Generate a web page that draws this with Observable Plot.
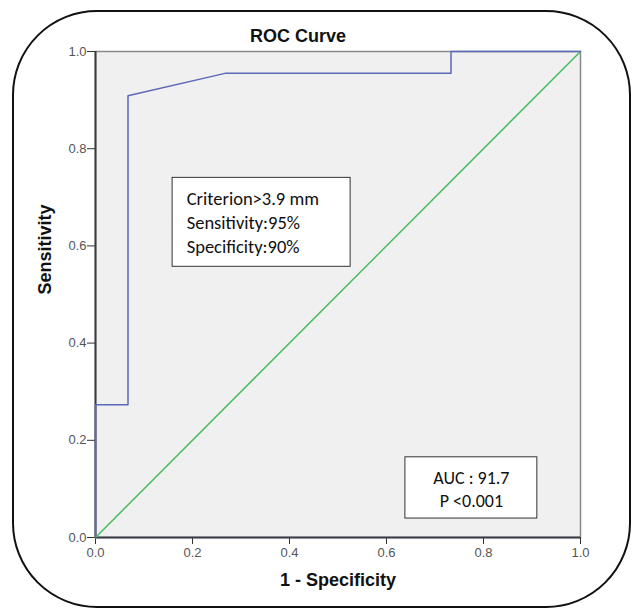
<!DOCTYPE html>
<html><head><meta charset="utf-8">
<script src="https://cdn.jsdelivr.net/npm/d3@7"></script>
<script src="https://cdn.jsdelivr.net/npm/@observablehq/plot@0.6"></script>
<style>
body{margin:0;background:#fff;}
#wrap{position:relative;width:633px;height:611px;}
#border{position:absolute;left:12px;top:10px;width:619px;height:598px;border:2px solid #111;border-radius:85px;box-sizing:border-box;pointer-events:none;}
</style>
</head><body>
<div id="wrap"><div id="chart"></div><div id="border"></div></div>
<script>
const rocFpr = [0, 0, 0.067, 0.067, 0.267, 0.733, 0.733, 1];
const rocTpr = [0, 0.273, 0.273, 0.909, 0.955, 0.955, 1, 1];
const refLine = [0, 1];
const ticks = [0, 0.2, 0.4, 0.6, 0.8, 1.0];
const title = "ROC Curve";
const xLabel = "1 - Specificity";
const yLabel = "Sensitivity";
const box1Text = "Criterion>3.9 mm\nSensitivity:95%\nSpecificity:90%";
const box1 = {x1: 0.159, x2: 0.526, y1: 0.557, y2: 0.740, tx: 0.188, ty: 0.651};
const box2Text = "AUC : 91.7\nP <0.001";
const box2 = {x1: 0.639, x2: 0.911, y1: 0.039, y2: 0.165, tx: 0.775, ty: 0.101};

const roc = rocFpr.map((x, i) => ({x, y: rocTpr[i]}));
const diag = refLine.map(v => ({x: v, y: v}));

const chart = Plot.plot({
  width: 633, height: 611,
  marginLeft: 95, marginRight: 53, marginTop: 51, marginBottom: 74,
  style: {fontFamily: "Liberation Sans, Arial, sans-serif", background: "transparent"},
  x: {domain: [0, 1]},
  y: {domain: [0, 1]},
  marks: [
    Plot.frame({fill: "#f0f0f0", stroke: "#8a8a8a", strokeWidth: 1.5}),
    Plot.axisX({ticks, tickFormat: d3.format(".1f"), tickSize: 7, fontSize: 13, color: "#555", stroke: "#333", label: null, tickPadding: 3}),
    Plot.axisY({ticks, tickFormat: d3.format(".1f"), tickSize: 8, fontSize: 13, color: "#555", stroke: "#333", label: null, tickPadding: 1}),
    Plot.ruleX([0], {stroke: "#3a3d48", strokeWidth: 2}),
    Plot.ruleY([0], {stroke: "#3a3d48", strokeWidth: 2}),
    Plot.line(diag, {x: "x", y: "y", stroke: "#4cbb63", strokeWidth: 1.5}),
    Plot.line(roc, {x: "x", y: "y", stroke: "#5a68b8", strokeWidth: 1.5}),
    Plot.rect([box1], {x1: "x1", x2: "x2", y1: "y1", y2: "y2", fill: "white", stroke: "#333", strokeWidth: 1}),
    Plot.text([box1], {x: "tx", y: "ty", text: () => box1Text, textAnchor: "start", fontSize: 18.5, lineHeight: 1.3, fontFamily: "Carlito, Lato, sans-serif", fill: "#111"}),
    Plot.rect([box2], {x1: "x1", x2: "x2", y1: "y1", y2: "y2", fill: "white", stroke: "#333", strokeWidth: 1}),
    Plot.text([box2], {x: "tx", y: "ty", text: () => box2Text, textAnchor: "middle", fontSize: 18, lineHeight: 1.28, fontFamily: "Carlito, Lato, sans-serif", fill: "#111"}),
    Plot.text([title], {frameAnchor: "top", dy: -22, dx: -40, fontSize: 18, fontWeight: "bold", fill: "#111"}),
    Plot.text([xLabel], {frameAnchor: "bottom", dy: 48, fontSize: 18, fontWeight: "bold", fill: "#111"}),
    Plot.text([yLabel], {frameAnchor: "left", dx: -50, rotate: -90, fontSize: 18, fontWeight: "bold", fill: "#111"})
  ]
});
document.getElementById("chart").append(chart);
</script>
</body></html>
